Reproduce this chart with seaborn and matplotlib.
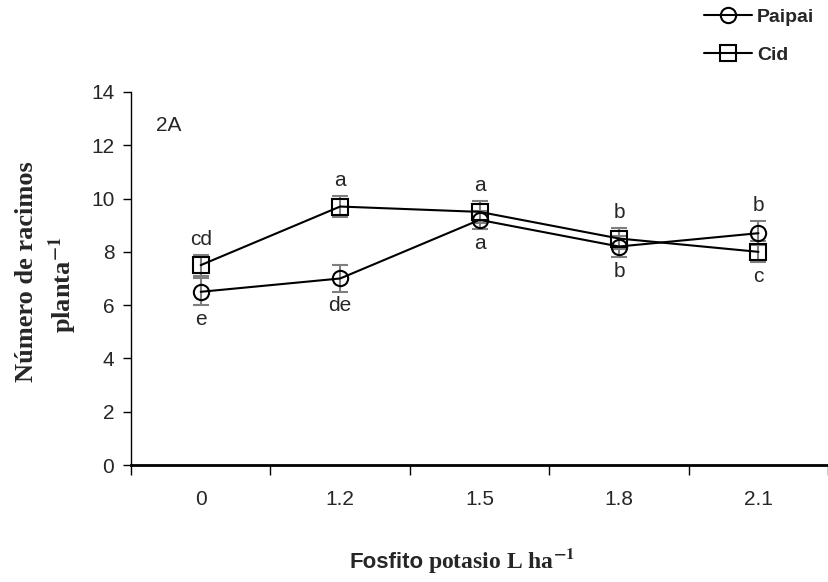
"""
Número de racimos por planta vs dosis de fosfito de potasio (Fig. 2A).
"""

import matplotlib
matplotlib.use("Agg")
import matplotlib.pyplot as plt
from matplotlib.lines import Line2D
import numpy as np
import pandas as pd
import seaborn as sns

DOSES = ["0", "1.2", "1.5", "1.8", "2.1"]
PAIPAI_MEAN = [6.5, 7.0, 9.2, 8.2, 8.7]
PAIPAI_ERR = [0.5, 0.5, 0.35, 0.4, 0.45]
PAIPAI_LETTERS = ["e", "de", "a", "b", "b"]
CID_MEAN = [7.5, 9.7, 9.5, 8.5, 8.0]
CID_ERR = [0.4, 0.4, 0.4, 0.4, 0.4]
CID_LETTERS = ["cd", "a", "a", "b", "c"]
Y_TICKS = [0, 2, 4, 6, 8, 10, 12, 14]

SANS = "Liberation Sans"
SERIF = "Liberation Serif"
FS = 15

sns.set_style("ticks")
plt.rcParams["font.family"] = [SANS, "DejaVu Sans"]
plt.rcParams["mathtext.fontset"] = "stix"

pos = np.arange(len(DOSES))
df = pd.DataFrame({
    "pos": np.concatenate([pos, pos]),
    "value": PAIPAI_MEAN + CID_MEAN,
    "variety": ["Paipai"] * len(DOSES) + ["Cid"] * len(DOSES),
})

fig = plt.figure(figsize=(8.29, 5.82), dpi=100)
ax = fig.add_axes([0.158, 0.201, 0.841, 0.641])

# error bars first so markers sit on top
for mean, err in [(PAIPAI_MEAN, PAIPAI_ERR), (CID_MEAN, CID_ERR)]:
    ax.errorbar(pos, mean, yerr=err, fmt="none", ecolor="#7f7f7f",
                elinewidth=1.5, capsize=5.5, capthick=1.5, zorder=2)

sns.lineplot(data=df, x="pos", y="value", hue="variety", style="variety",
             markers={"Paipai": "o", "Cid": "s"}, dashes=False,
             palette={"Paipai": "black", "Cid": "black"},
             markersize=11, markerfacecolor="none", markeredgecolor="black",
             markeredgewidth=1.5, linewidth=1.5, legend=False, ax=ax, zorder=3)

# significance letters: higher series above, lower below
for i in range(len(DOSES)):
    pairs = [(PAIPAI_MEAN[i], PAIPAI_ERR[i], PAIPAI_LETTERS[i]),
             (CID_MEAN[i], CID_ERR[i], CID_LETTERS[i])]
    pairs.sort(key=lambda p: p[0])
    lo, hi = pairs
    ax.annotate(hi[2], (pos[i], hi[0] + hi[1]), xytext=(0, 11),
                textcoords="offset points", ha="center", va="center", fontsize=FS)
    ax.annotate(lo[2], (pos[i], lo[0] - lo[1]), xytext=(0, -10),
                textcoords="offset points", ha="center", va="center", fontsize=FS)

ax.set_xlim(-0.5, len(DOSES) - 0.5)
ax.set_ylim(0, 14)
ax.set_yticks(Y_TICKS)
ax.set_xticks(np.arange(len(DOSES) + 1) - 0.5)
ax.set_xticklabels([])
ax.set_xticks(pos, minor=True)
ax.set_xticklabels(DOSES, minor=True)
ax.tick_params(axis="x", which="major", length=7, width=1, direction="out", color="black")
ax.tick_params(axis="x", which="minor", length=0, pad=18, labelsize=FS)
ax.tick_params(axis="y", length=6, width=1, direction="out", color="black", labelsize=FS, pad=6)
ax.set_xlabel("")
ax.set_ylabel("")
sns.despine(ax=ax)
ax.spines["bottom"].set_linewidth(2)
ax.spines["left"].set_linewidth(1)
ax.spines["bottom"].set_color("black")
ax.spines["left"].set_color("black")

ax.text(0.036, 0.91, "2A", transform=ax.transAxes, fontsize=FS, va="center")

# x label: mixed sans / serif bold
fig.text(0.421, 0.024, "Fosfito", fontsize=16, fontweight="bold",
         family=[SANS], ha="left", va="baseline")
fig.text(0.516, 0.024, r"potasio L ha$^{\mathbf{-1}}$", fontsize=17,
         fontweight="bold", family=[SERIF], ha="left", va="baseline")

# y label, two lines
fig.text(0.032, 0.533, "Número de racimos", rotation=90, fontsize=19,
         fontweight="bold", family=SERIF, ha="center", va="center")
fig.text(0.075, 0.51, r"planta$^{\mathbf{-1}}$", rotation=90, fontsize=19,
         fontweight="bold", family=SERIF, ha="center", va="center")

handles = [
    Line2D([], [], color="black", lw=1.5, marker="o", markersize=11,
           markerfacecolor="none", markeredgewidth=1.5),
    Line2D([], [], color="black", lw=1.5, marker="s", markersize=11,
           markerfacecolor="none", markeredgewidth=1.5),
]
fig.legend(handles, ["Paipai", "Cid"], loc="upper left",
           bbox_to_anchor=(0.83, 1.012), frameon=False, handlelength=2.5,
           handletextpad=0.25, labelspacing=1.05, borderpad=0.3,
           prop={"family": SANS, "weight": "bold", "size": 14})

plt.savefig("out.png", dpi=100)
plt.close()
